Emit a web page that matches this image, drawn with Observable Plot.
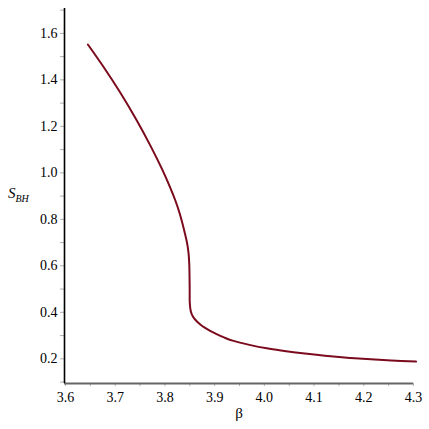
<!DOCTYPE html>
<html>
<head>
<meta charset="utf-8">
<script src="https://cdn.jsdelivr.net/npm/d3@7"></script>
<script src="https://cdn.jsdelivr.net/npm/@observablehq/plot@0.6"></script>
<style>
  html, body { margin: 0; padding: 0; background: #fff; }
</style>
</head>
<body>
<div id="chart"></div>
<script>
// Curve data
const beta = [3.645, 3.677, 3.711, 3.744, 3.771, 3.794, 3.810, 3.821, 3.830, 3.838, 3.8444, 3.8475, 3.849, 3.8495, 3.8498, 3.850, 3.852, 3.856, 3.862, 3.870, 3.880, 3.893, 3.905, 3.920, 3.938, 3.970, 4.005, 4.040, 4.072, 4.105, 4.139, 4.172, 4.206, 4.255, 4.305];
const sbh  = [1.552, 1.454, 1.342, 1.223, 1.116, 1.017, 0.940, 0.881, 0.823, 0.759, 0.700, 0.655, 0.605, 0.555, 0.495, 0.440, 0.405, 0.383, 0.366, 0.350, 0.334, 0.318, 0.305, 0.291, 0.277, 0.260, 0.245, 0.234, 0.225, 0.217, 0.210, 0.204, 0.199, 0.193, 0.188];

const xMajor = [3.6, 3.7, 3.8, 3.9, 4.0, 4.1, 4.2, 4.3];
const xMinor = [3.65, 3.75, 3.85, 3.95, 4.05, 4.15, 4.25];
const yMajor = [0.2, 0.4, 0.6, 0.8, 1.0, 1.2, 1.4, 1.6];
const yMinor = [0.1, 0.3, 0.5, 0.7, 0.9, 1.1, 1.3, 1.5, 1.7];

const xDomain = [3.598, 4.3];
const yDomain = [0.0938, 1.707];

const data = beta.map((b, i) => ({beta: b, s: sbh[i]}));
const font = "Liberation Serif";

const chart = Plot.plot({
  width: 429,
  height: 429,
  marginLeft: 64,
  marginRight: 16,
  marginTop: 8,
  marginBottom: 46,
  style: {fontSize: "14px", background: "#fff", color: "#000", fontFamily: font},
  x: {domain: xDomain},
  y: {domain: yDomain},
  marks: [
    Plot.axisX(xMinor, {tickSize: 3, stroke: "#b0b0b0", text: null, label: null}),
    Plot.axisX(xMajor, {tickSize: 3, tickPadding: 6, stroke: "#b0b0b0", fontSize: 14, fontFamily: font, tickFormat: d => d.toFixed(1), label: null}),
    Plot.axisY(yMinor.filter(v => v >= yDomain[0] && v <= yDomain[1]), {tickSize: 4, stroke: "#b0b0b0", text: null, label: null}),
    Plot.axisY(yMajor, {tickSize: 4, tickPadding: 3, stroke: "#b0b0b0", fontSize: 14, fontFamily: font, tickFormat: d => d.toFixed(1), label: null}),
    Plot.line(data, {x: "beta", y: "s", stroke: "#7a0a1c", strokeWidth: 2, curve: "catmull-rom"}),
    Plot.ruleY([yDomain[0]], {stroke: "#666", strokeWidth: 2}),
    Plot.ruleX([xDomain[0]], {stroke: "#000", strokeWidth: 1.6})
  ]
});

const svg = d3.select(chart);
svg.attr("font-family", font);
// x-axis label
svg.append("text")
  .attr("x", 239).attr("y", 418)
  .attr("text-anchor", "middle")
  .attr("font-family", font)
  .attr("font-size", 15)
  .attr("fill", "#000")
  .text("β");
// y-axis label S_BH
const yl = svg.append("text")
  .attr("x", 8).attr("y", 198)
  .attr("text-anchor", "start")
  .attr("font-family", font)
  .attr("font-style", "italic")
  .attr("fill", "#000");
yl.append("tspan").attr("font-size", 15).text("S");
yl.append("tspan").attr("font-size", 10).attr("dy", 4).text("BH");

svg.selectAll("text").attr("font-family", font);

document.getElementById("chart").appendChild(chart);
</script>
</body>
</html>
